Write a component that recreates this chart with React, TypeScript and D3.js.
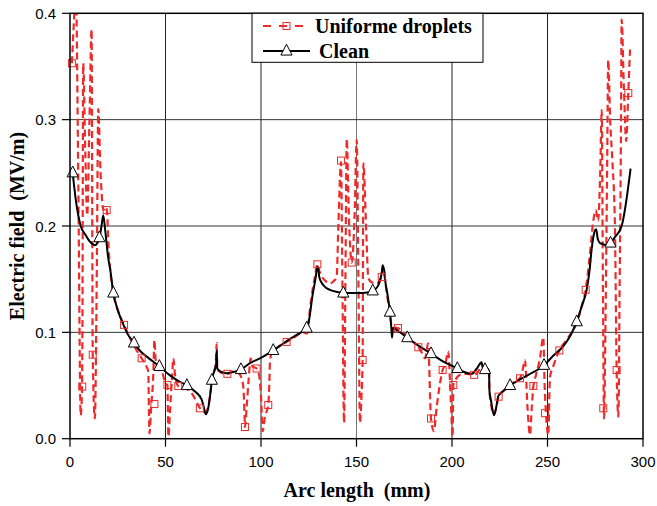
import React from "react";
import * as d3 from "d3";

const xTicks = [0, 50, 100, 150, 200, 250, 300];
const yTicks = [0.0, 0.1, 0.2, 0.3, 0.4];

// Clean curve (black solid)
const cleanX = [1.4, 3, 5.6, 8, 10.5, 13.1, 15.4, 16.5, 17.4, 18.5, 20, 21, 22.7, 25, 28, 30, 33.5, 37, 41, 46.8, 52, 57, 61.2, 65, 68.9, 70, 71, 72.3, 73.3, 74.3, 75.6, 76.5, 76.8, 77.1, 79, 82, 86, 89.5, 94.2, 100, 106.4, 112, 118, 123.9, 125, 127, 128.5, 129.3, 129.8, 130.5, 132, 134, 136.1, 140, 143.1, 148, 153, 158.5, 161, 162.5, 163.2, 163.7, 164.5, 165.3, 166.1, 167.5, 168.2, 168.6, 169.1, 172, 176.6, 182, 189, 195, 202.8, 206, 210.3, 213, 215.5, 216.2, 217.3, 218.5, 219.4, 219.6, 220.5, 222, 223.2, 224.2, 227, 230.4, 235, 240, 248.2, 253, 258.3, 262, 265.3, 268, 270.5, 272, 273.1, 274.9, 275.5, 276.3, 277.5, 281.8, 283, 285.5, 287.9, 288.8, 293.5];
const cleanY = [0.250, 0.225, 0.200, 0.192, 0.185, 0.182, 0.189, 0.200, 0.210, 0.195, 0.170, 0.160, 0.137, 0.121, 0.107, 0.099, 0.090, 0.082, 0.076, 0.068, 0.060, 0.054, 0.050, 0.045, 0.037, 0.030, 0.023, 0.028, 0.040, 0.055, 0.064, 0.070, 0.083, 0.066, 0.063, 0.0615, 0.063, 0.065, 0.071, 0.076, 0.083, 0.090, 0.097, 0.104, 0.110, 0.135, 0.150, 0.160, 0.162, 0.152, 0.146, 0.142, 0.140, 0.138, 0.137, 0.137, 0.137, 0.139, 0.143, 0.150, 0.156, 0.163, 0.158, 0.145, 0.137, 0.119, 0.105, 0.095, 0.104, 0.101, 0.095, 0.088, 0.080, 0.073, 0.066, 0.063, 0.061, 0.066, 0.072, 0.066, 0.065, 0.066, 0.063, 0.045, 0.035, 0.022, 0.030, 0.040, 0.045, 0.050, 0.055, 0.060, 0.069, 0.078, 0.087, 0.097, 0.110, 0.125, 0.140, 0.158, 0.178, 0.196, 0.197, 0.188, 0.184, 0.182, 0.184, 0.190, 0.196, 0.200, 0.254];
const cleanMarkX = [1.4, 15.4, 22.7, 33.5, 46.8, 61.2, 74.3, 89.5, 106.4, 123.9, 143.1, 158.5, 167.5, 176.6, 189, 202.8, 217.3, 230.4, 248.2, 265.3, 283];
const cleanMarkY = [0.250, 0.189, 0.137, 0.090, 0.068, 0.050, 0.055, 0.065, 0.083, 0.104, 0.137, 0.139, 0.119, 0.095, 0.080, 0.066, 0.065, 0.050, 0.069, 0.110, 0.184];

// Uniform droplets (red dashed)
const dropX = [1, 2, 3.1, 4.3, 5.6, 6.2, 6.5, 6.9, 8, 9, 10.2, 11.3, 11.9, 13, 14, 14.8, 16, 17.5, 18.8, 19.4, 20.2, 21, 22.7, 25, 28.3, 33, 37.5, 40, 41, 41.3, 41.6, 42.5, 43.6, 44.2, 44.8, 46, 48.5, 50, 51, 51.5, 52.5, 53.5, 54.1, 55, 56.7, 60, 64, 68, 70.5, 72, 73.3, 74.3, 75.6, 76.3, 76.8, 77.1, 79, 82.4, 85, 88, 90, 90.9, 91.4, 91.6, 92.5, 93.5, 94.6, 95.5, 97.7, 99, 100, 100.9, 102, 103.8, 104.5, 104.7, 106, 108, 113.4, 118, 122, 124.2, 125, 127, 128.5, 129.5, 130.5, 132, 134, 136.1, 138, 139.6, 140.5, 141.9, 142.6, 143.5, 144.2, 144.9, 146, 147.5, 149, 150.1, 151, 151.8, 152.6, 153.2, 153.6, 155, 156.2, 158, 160.6, 162.5, 163.2, 163.7, 164.5, 166, 167.5, 168.5, 171.7, 176.6, 182.4, 184.5, 185.9, 187.5, 189, 190.5, 192, 194, 195.1, 196.5, 198, 199.5, 200.3, 200.7, 202, 204.2, 208, 211.6, 214, 215.5, 217, 219.4, 219.6, 222, 223.5, 224.4, 227, 230, 233, 235.6, 237, 238.2, 239.5, 240.8, 241.8, 242.6, 244, 246, 247.8, 248.5, 249.2, 250.4, 251.3, 253, 256.2, 260, 265, 268, 270, 272, 274, 275.3, 276.5, 277.6, 278.4, 279, 279.6, 280.3, 281.2, 281.8, 282.8, 284, 285.3, 286.2, 287.1, 287.8, 288.5, 288.8, 290, 291.2, 292.3, 293.2];
const dropY = [0.353, 0.39, 0.42, 0.25, 0.022, 0.04, 0.1, 0.353, 0.27, 0.21, 0.3, 0.385, 0.079, 0.019, 0.15, 0.31, 0.25, 0.215, 0.218, 0.213, 0.18, 0.16, 0.137, 0.121, 0.107, 0.089, 0.0756, 0.068, 0.063, 0.03, 0.005, 0.03, 0.06, 0.093, 0.075, 0.066, 0.061, 0.052, 0.0505, 0.002, 0.03, 0.06, 0.0756, 0.06, 0.0496, 0.048, 0.042, 0.029, 0.025, 0.028, 0.04, 0.055, 0.064, 0.07, 0.09, 0.066, 0.062, 0.061, 0.063, 0.062, 0.056, 0.045, 0.02, 0.011, 0.03, 0.055, 0.0756, 0.068, 0.066, 0.06, 0.04, 0.007, 0.02, 0.032, 0.06, 0.074, 0.082, 0.085, 0.091, 0.096, 0.1, 0.099, 0.112, 0.14, 0.155, 0.164, 0.158, 0.152, 0.148, 0.146, 0.148, 0.152, 0.2, 0.26, 0.15, 0.015, 0.15, 0.282, 0.21, 0.1656, 0.21, 0.281, 0.15, 0.015, 0.04, 0.074, 0.259, 0.2, 0.151, 0.147, 0.146, 0.15, 0.155, 0.16, 0.155, 0.135, 0.118, 0.105, 0.104, 0.095, 0.086, 0.08, 0.0756, 0.0897, 0.019, 0.007, 0.03, 0.055, 0.0646, 0.07, 0.082, 0.03, 0.002, 0.0505, 0.056, 0.06, 0.061, 0.06, 0.064, 0.07, 0.066, 0.063, 0.045, 0.023, 0.032, 0.0395, 0.045, 0.05, 0.054, 0.0568, 0.065, 0.074, 0.03, 0.0035, 0.03, 0.0496, 0.06, 0.075, 0.0954, 0.05, 0.024, 0.0035, 0.058, 0.068, 0.083, 0.093, 0.108, 0.125, 0.14, 0.17, 0.205, 0.215, 0.205, 0.25, 0.309, 0.15, 0.019, 0.1, 0.25, 0.356, 0.3, 0.26, 0.2, 0.0646, 0.0207, 0.15, 0.3, 0.394, 0.33, 0.28, 0.325, 0.366];
const dropMarkX = [1, 6.4, 11.9, 19.2, 28.3, 37.5, 44.2, 51, 56.7, 68, 82.4, 91.6, 97.7, 103.8, 113.4, 129.5, 141.9, 147.5, 153.2, 163.2, 171.7, 182.4, 189, 195.1, 200.7, 211.6, 224.4, 235.6, 242.6, 248.7, 256.2, 270, 279.2, 286.2, 292.3];
const dropMarkY = [0.353, 0.049, 0.079, 0.215, 0.107, 0.0756, 0.0326, 0.0505, 0.0496, 0.0286, 0.061, 0.011, 0.066, 0.0317, 0.091, 0.164, 0.2615, 0.1656, 0.074, 0.152, 0.104, 0.086, 0.019, 0.0646, 0.0505, 0.06, 0.0395, 0.0568, 0.0496, 0.024, 0.083, 0.14, 0.0286, 0.0646, 0.325];

const legendLabels = ["Uniforme droplets", "Clean"];

const W = 657, H = 506;
const L = 70, R = 643, T = 13.3, B = 438.7;
const RED = "#ee2b2b";
const SERIF = "Liberation Serif, Times New Roman, serif";
const SANS = "Liberation Sans, Arial, sans-serif";

export default function App() {
  const x = d3.scaleLinear().domain([0, 300]).range([L, R]);
  const y = d3.scaleLinear().domain([0, 0.4]).range([B, T]);
  const mk = d3.line<[number, number]>().x(d => x(d[0])).y(d => y(d[1])).curve(d3.curveMonotoneX);
  const cleanPath = mk(cleanX.map((v, i) => [v, cleanY[i]] as [number, number]));
  const dropPath = mk(dropX.map((v, i) => [v, dropY[i]] as [number, number]));
  const tri = (cx: number, cy: number, s: number) =>
    `M${cx},${cy - s * 0.75}L${cx + s * 0.62},${cy + s * 0.45}L${cx - s * 0.62},${cy + s * 0.45}Z`;

  return (
    <svg width={W} height={H} style={{ position: "absolute", left: 0, top: 0, background: "#fff" }}>
      <defs>
        <clipPath id="plotclip">
          <rect x={L} y={T} width={R - L} height={B - T} />
        </clipPath>
      </defs>
      <rect x={0} y={0} width={W} height={H} fill="#fff" />
      {xTicks.slice(1, -1).map(t => (
        <line key={"gx" + t} x1={x(t)} x2={x(t)} y1={T} y2={B} stroke={t === 150 ? "#777" : "#222"} strokeWidth={1} />
      ))}
      {yTicks.slice(1, -1).map(t => (
        <line key={"gy" + t} x1={L} x2={R} y1={y(t)} y2={y(t)} stroke="#333" strokeWidth={1} />
      ))}
      <g clipPath="url(#plotclip)">
        <path d={dropPath || ""} fill="none" stroke={RED} strokeWidth={2.2} strokeDasharray="7,4" />
        <path d={cleanPath || ""} fill="none" stroke="#000" strokeWidth={2} />
      </g>
      {dropMarkX.map((v, i) => (
        <rect key={"dm" + i} x={x(v) - 3.5} y={y(dropMarkY[i]) - 3.5} width={7} height={7} fill="none" stroke={RED} strokeWidth={1} />
      ))}
      {cleanMarkX.map((v, i) => (
        <path key={"cm" + i} d={tri(x(v), y(cleanMarkY[i]), 9)} fill="#fff" stroke="#000" strokeWidth={1} />
      ))}
      <rect x={L} y={T} width={R - L} height={B - T} fill="none" stroke="#000" strokeWidth={1.5} />
      {xTicks.map(t => (
        <g key={"xt" + t}>
          <line x1={x(t)} x2={x(t)} y1={B} y2={B + 8} stroke="#000" strokeWidth={1.2} />
          <text x={x(t)} y={467} textAnchor="middle" fontFamily={SANS} fontSize={15} fill="#000">{t}</text>
        </g>
      ))}
      {yTicks.map(t => (
        <g key={"yt" + t}>
          <line x1={L - 8} x2={L} y1={y(t)} y2={y(t)} stroke="#000" strokeWidth={1.2} />
          <text x={56} y={y(t) + 5.5} textAnchor="end" fontFamily={SANS} fontSize={15} fill="#000">{t.toFixed(1)}</text>
        </g>
      ))}
      <text x={357} y={497} textAnchor="middle" fontFamily={SERIF} fontWeight="bold" fontSize={20} fill="#000" style={{ whiteSpace: "pre" }}>Arc length  (mm)</text>
      <text transform={`translate(24,226) rotate(-90)`} textAnchor="middle" fontFamily={SERIF} fontWeight="bold" fontSize={20} fill="#000" style={{ whiteSpace: "pre" }}>Electric field  (MV/m)</text>
      <rect x={252} y={13.3} width={231} height={49} fill="#fff" stroke="#000" strokeWidth={1} />
      <line x1={263} x2={310} y1={26} y2={26} stroke={RED} strokeWidth={2} strokeDasharray="8,8" />
      <rect x={286.5 - 3.5} y={26 - 3.5} width={7} height={7} fill="none" stroke={RED} strokeWidth={1} />
      <line x1={263} x2={310} y1={51} y2={51} stroke="#000" strokeWidth={2} />
      <path d={tri(286.5, 51, 9)} fill="#fff" stroke="#000" strokeWidth={1} />
      <text x={315} y={33} fontFamily={SERIF} fontWeight="bold" fontSize={20} fill="#000">{legendLabels[0]}</text>
      <text x={319} y={58} fontFamily={SERIF} fontWeight="bold" fontSize={20} fill="#000">{legendLabels[1]}</text>
    </svg>
  );
}
